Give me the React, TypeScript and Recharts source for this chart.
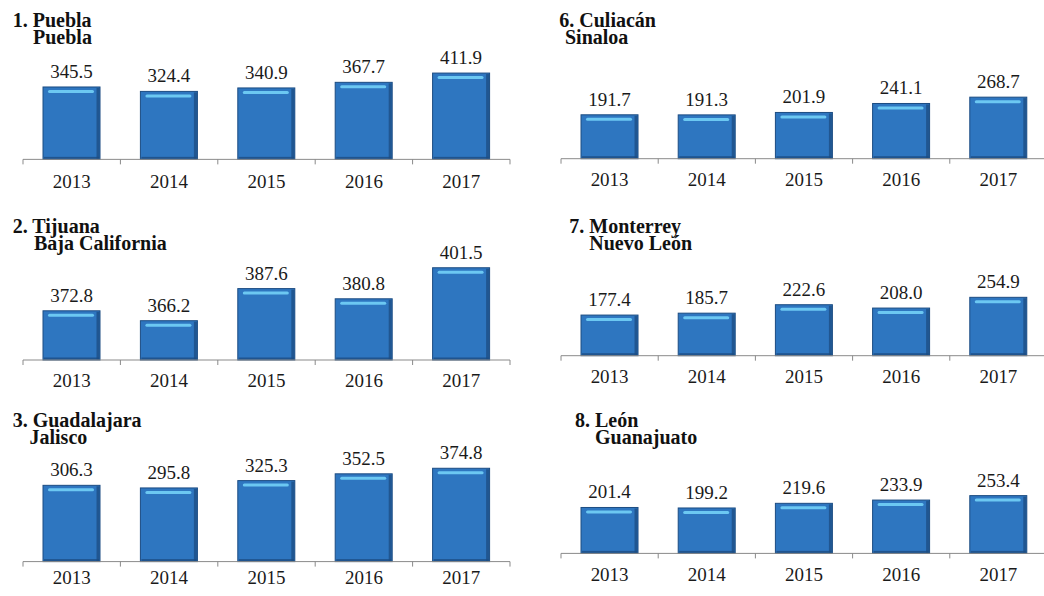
import React from 'react';
import { BarChart, Bar, XAxis, YAxis, LabelList } from 'recharts';

// ---- data ----
const years = ['2013', '2014', '2015', '2016', '2017'];
const puebla = [345.5, 324.4, 340.9, 367.7, 411.9];
const tijuana = [372.8, 366.2, 387.6, 380.8, 401.5];
const guadalajara = [306.3, 295.8, 325.3, 352.5, 374.8];
const culiacan = [191.7, 191.3, 201.9, 241.1, 268.7];
const monterrey = [177.4, 185.7, 222.6, 208.0, 254.9];
const leon = [201.4, 199.2, 219.6, 233.9, 253.4];

const titleLine1 = ['1. Puebla', '2. Tijuana', '3. Guadalajara', '6. Culiacán', '7. Monterrey', '8. León'];
const titleLine2 = ['Puebla', 'Baja California', 'Jalisco', 'Sinaloa', 'Nuevo León', 'Guanajuato'];
const seriesList = [puebla, tijuana, guadalajara, culiacan, monterrey, leon];

// ---- layout (style) ----
const FONT = '"Liberation Serif", "DejaVu Serif", "Noto Serif", "Times New Roman", Times, serif';
const TICK_SIZE = 5;
const M_TOP = 40;
const X_AXIS_H = 40;
const SIDE = 5;

type Layout = {
  plotLeft: number; plotW: number; axisY: number; domain: [number, number]; pxPerUnit: number;
  tickMargin: number; t1x: number; t2x: number; baseline: number;
};

const layouts: Layout[] = [
  { plotLeft: 23.3, plotW: 487, axisY: 159, domain: [0, 460], pxPerUnit: 0.2095, tickMargin: 10, t1x: 12.7, t2x: 33, baseline: 27 },
  { plotLeft: 23.3, plotW: 487, axisY: 360, domain: [340, 420], pxPerUnit: 1.5, tickMargin: 9, t1x: 12.7, t2x: 34, baseline: 233 },
  { plotLeft: 23.3, plotW: 487, axisY: 561.5, domain: [0, 400], pxPerUnit: 0.249, tickMargin: 4, t1x: 12.7, t2x: 29.5, baseline: 427 },
  { plotLeft: 561.4, plotW: 486, axisY: 158.3, domain: [0, 300], pxPerUnit: 0.229, tickMargin: 9, t1x: 559.3, t2x: 565, baseline: 27 },
  { plotLeft: 561.4, plotW: 486, axisY: 355.7, domain: [0, 300], pxPerUnit: 0.229, tickMargin: 9, t1x: 569.3, t2x: 589.3, baseline: 233 },
  { plotLeft: 561.4, plotW: 486, axisY: 553.7, domain: [0, 300], pxPerUnit: 0.228, tickMargin: 9, t1x: 575, t2x: 595, baseline: 427 },
];

const BAR_FILL = '#2E76C0';
const BAR_DARK = '#1C4C82';
const BAR_HI = '#6CC8F2';

const BarShape = (p: any) => {
  const { x, y, width: w, height: h } = p;
  if (!w || !h || h <= 0) return null;
  return (
    <g>
      <rect x={x} y={y} width={w} height={h} fill={BAR_FILL} stroke={BAR_DARK} strokeWidth={1} />
      <rect x={x + w - 3.5} y={y + 1} width={3} height={h - 1} fill={BAR_DARK} opacity={0.75} />
      <rect x={x + 1} y={y + h - 2.5} width={w - 2} height={2} fill={BAR_DARK} opacity={0.8} />
      <rect x={x + 5} y={y + 3} width={w - 11} height={3} rx={1.5} fill={BAR_HI} />
    </g>
  );
};

const makeTick = (count: number, tickMargin: number) => (props: any) => {
  const { x, y, payload, index } = props;
  const half = payload && payload.offset ? payload.offset : 0;
  const axisY = y - TICK_SIZE - tickMargin;
  return (
    <g>
      <line x1={x - half} x2={x - half} y1={axisY} y2={axisY + TICK_SIZE} stroke="#8a8a8a" strokeWidth={1} />
      {index === count - 1 ? (
        <line x1={x + half} x2={x + half} y1={axisY} y2={axisY + TICK_SIZE} stroke="#8a8a8a" strokeWidth={1} />
      ) : null}
      <text x={x} y={y} dy="0.71em" textAnchor="middle" fontFamily={FONT} fontSize={19} fill="#1a1a1a">
        {payload.value}
      </text>
    </g>
  );
};

const Panel = ({ values, layout }: { values: number[]; layout: Layout }) => {
  const data = years.map((yr, i) => ({ year: yr, value: values[i] }));
  const plotH = (layout.domain[1] - layout.domain[0]) * layout.pxPerUnit;
  const height = plotH + M_TOP + X_AXIS_H;
  const width = layout.plotW + SIDE * 2;
  const top = layout.axisY - plotH - M_TOP;
  return (
    <div style={{ position: 'absolute', left: layout.plotLeft - SIDE, top, width, height }}>
      <BarChart width={width} height={height} data={data} margin={{ top: M_TOP, right: SIDE, left: SIDE, bottom: 0 }} barSize={57}>
        <XAxis
          dataKey="year"
          height={X_AXIS_H}
          axisLine={{ stroke: '#8a8a8a', strokeWidth: 1 }}
          tickLine={false}
          tickSize={TICK_SIZE}
          tickMargin={layout.tickMargin}
          interval={0}
          tick={makeTick(years.length, layout.tickMargin)}
        />
        <YAxis hide type="number" domain={layout.domain} />
        <Bar dataKey="value" isAnimationActive={false} shape={<BarShape />}>
          <LabelList
            dataKey="value"
            position="top"
            offset={9}
            formatter={(v: any) => Number(v).toFixed(1)}
            style={{ fontFamily: FONT, fontSize: 19, fill: '#1a1a1a' }}
          />
        </Bar>
      </BarChart>
    </div>
  );
};

const titleStyle: React.CSSProperties = {
  position: 'absolute',
  fontFamily: FONT,
  fontWeight: 'bold',
  fontSize: 20,
  lineHeight: '17px',
  color: '#111',
  whiteSpace: 'nowrap',
};

export default function App() {
  return (
    <div style={{ position: 'absolute', left: 0, top: 0, width: 1044, height: 596, overflow: 'hidden', background: '#ffffff' }}>
      {layouts.map((l, i) => (
        <Panel key={'p' + i} values={seriesList[i]} layout={l} />
      ))}
      {layouts.map((l, i) => (
        <div key={'t' + i} style={{ ...titleStyle, left: l.t1x, top: l.baseline - 15.25 }}>
          {titleLine1[i]}
          <br />
          <span style={{ paddingLeft: l.t2x - l.t1x }}>{titleLine2[i]}</span>
        </div>
      ))}
    </div>
  );
}
